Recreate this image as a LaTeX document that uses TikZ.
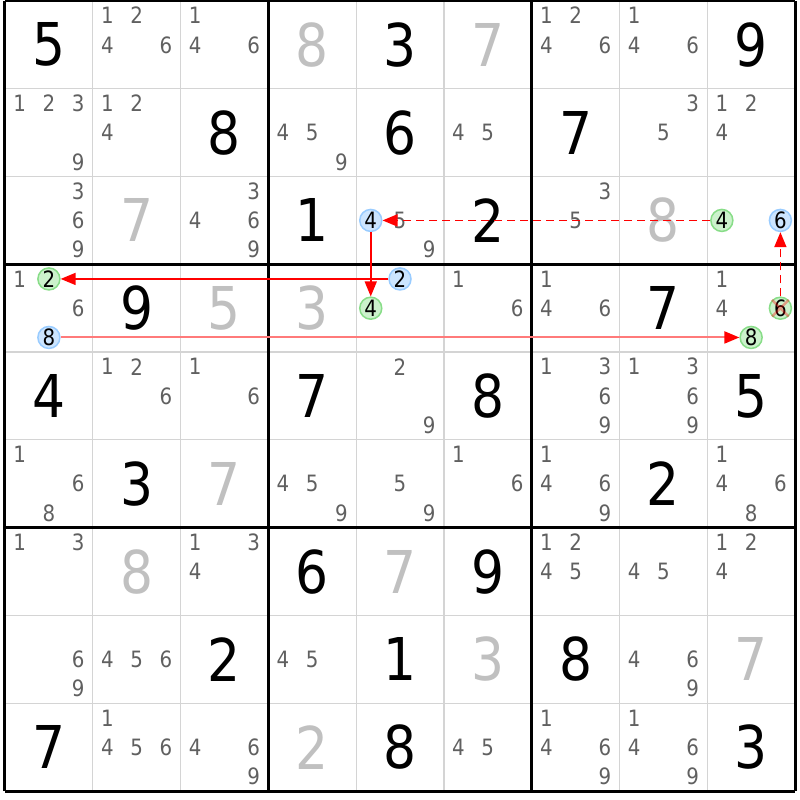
\documentclass[tikz,border=0pt]{standalone}
\usepackage{fontspec}
\setmainfont{DejaVu Sans}[FakeStretch=0.88]
\usepackage{tikz}
\usetikzlibrary{arrows.meta}
\definecolor{candgrey}{HTML}{606060}
\definecolor{foundgrey}{HTML}{C0C0C0}
\definecolor{gridgrey}{HTML}{D4D4D4}
\definecolor{bluefill}{HTML}{CCE5FF}
\definecolor{bluedraw}{HTML}{99CCFF}
\definecolor{greenfill}{HTML}{CCF2CC}
\definecolor{greendraw}{HTML}{88DD88}
\definecolor{linkpink}{HTML}{FF7A7A}
\newcommand{\clue}[3]{\node[clue] (r#1c#2) at ({#2-0.5},{9.5-#1}) {#3};}
\newcommand{\found}[3]{\node[found] (r#1c#2) at ({#2-0.5},{9.5-#1}) {#3};}
\newcommand{\cand}[4][cand]{\node[#1] (r#2c#3d#4) at ({#3-1+(mod(#4-1,3)+0.5)/3},{10-#2-(floor((#4-1)/3)+0.5)/3}) {#4};}
\tikzstyle{clue}=[font=\fontsize{59pt}{60pt}\selectfont, text=black, inner sep=0pt]
\tikzstyle{found}=[clue, text=foundgrey]
\tikzstyle{cand}=[font=\fontsize{22.5pt}{23pt}\selectfont, text=candgrey, inner sep=0pt]
\tikzstyle{bluecand}=[cand, circle, draw=bluedraw, fill=bluefill, line width=1.5pt, minimum size=22pt, text=black]
\tikzstyle{greencand}=[bluecand, draw=greendraw, fill=greenfill]
\tikzstyle{strong}=[red, line width=1.5pt, >={Triangle[length=15pt, width=12pt]}]
\tikzstyle{weak}=[strong, line width=1.7pt, dash pattern=on 8pt off 5pt]
\tikzstyle{faded}=[draw=linkpink, line width=2pt, >={Triangle[length=15pt, width=12pt, color=red]}]
\tikzstyle{crossed}=[red, opacity=0.35, line width=2.5pt]

\begin{document}
\begin{tikzpicture}[x=87.78pt, y=87.78pt]
    \useasboundingbox (-5pt,-9pt) rectangle (795pt,791pt);
    \fill[white] (-5pt,-9pt) rectangle (795pt,791pt);
    \draw[gridgrey, line width=1.2pt] (0,0) grid[step=1] (9,9);
    \draw[black, line width=3pt] (0,0) grid[step=3] (9,9);

    \clue{1}{1}{5}
    \cand{1}{2}{1} \cand{1}{2}{2} \cand{1}{2}{4} \cand{1}{2}{6}
    \cand{1}{3}{1} \cand{1}{3}{4} \cand{1}{3}{6}
    \found{1}{4}{8} \clue{1}{5}{3} \found{1}{6}{7}
    \cand{1}{7}{1} \cand{1}{7}{2} \cand{1}{7}{4} \cand{1}{7}{6}
    \cand{1}{8}{1} \cand{1}{8}{4} \cand{1}{8}{6}
    \clue{1}{9}{9}

    \cand{2}{1}{1} \cand{2}{1}{2} \cand{2}{1}{3} \cand{2}{1}{9}
    \cand{2}{2}{1} \cand{2}{2}{2} \cand{2}{2}{4}
    \clue{2}{3}{8}
    \cand{2}{4}{4} \cand{2}{4}{5} \cand{2}{4}{9}
    \clue{2}{5}{6}
    \cand{2}{6}{4} \cand{2}{6}{5}
    \clue{2}{7}{7}
    \cand{2}{8}{3} \cand{2}{8}{5}
    \cand{2}{9}{1} \cand{2}{9}{2} \cand{2}{9}{4}

    \cand{3}{1}{3} \cand{3}{1}{6} \cand{3}{1}{9}
    \found{3}{2}{7}
    \cand{3}{3}{3} \cand{3}{3}{4} \cand{3}{3}{6} \cand{3}{3}{9}
    \clue{3}{4}{1}
    \cand[bluecand]{3}{5}{4} \cand{3}{5}{5} \cand{3}{5}{9}
    \clue{3}{6}{2}
    \cand{3}{7}{3} \cand{3}{7}{5}
    \found{3}{8}{8}
    \cand[greencand]{3}{9}{4} \cand[bluecand]{3}{9}{6}

    \cand{4}{1}{1} \cand[greencand]{4}{1}{2} \cand{4}{1}{6} \cand[bluecand]{4}{1}{8}
    \clue{4}{2}{9} \found{4}{3}{5} \found{4}{4}{3}
    \cand[bluecand]{4}{5}{2} \cand[greencand]{4}{5}{4}
    \cand{4}{6}{1} \cand{4}{6}{6}
    \cand{4}{7}{1} \cand{4}{7}{4} \cand{4}{7}{6}
    \clue{4}{8}{7}
    \cand{4}{9}{1} \cand{4}{9}{4} \cand[greencand]{4}{9}{6} \cand[greencand]{4}{9}{8}

    \clue{5}{1}{4}
    \cand{5}{2}{1} \cand{5}{2}{2} \cand{5}{2}{6}
    \cand{5}{3}{1} \cand{5}{3}{6}
    \clue{5}{4}{7}
    \cand{5}{5}{2} \cand{5}{5}{9}
    \clue{5}{6}{8}
    \cand{5}{7}{1} \cand{5}{7}{3} \cand{5}{7}{6} \cand{5}{7}{9}
    \cand{5}{8}{1} \cand{5}{8}{3} \cand{5}{8}{6} \cand{5}{8}{9}
    \clue{5}{9}{5}

    \cand{6}{1}{1} \cand{6}{1}{6} \cand{6}{1}{8}
    \clue{6}{2}{3} \found{6}{3}{7}
    \cand{6}{4}{4} \cand{6}{4}{5} \cand{6}{4}{9}
    \cand{6}{5}{5} \cand{6}{5}{9}
    \cand{6}{6}{1} \cand{6}{6}{6}
    \cand{6}{7}{1} \cand{6}{7}{4} \cand{6}{7}{6} \cand{6}{7}{9}
    \clue{6}{8}{2}
    \cand{6}{9}{1} \cand{6}{9}{4} \cand{6}{9}{6} \cand{6}{9}{8}

    \cand{7}{1}{1} \cand{7}{1}{3}
    \found{7}{2}{8}
    \cand{7}{3}{1} \cand{7}{3}{3} \cand{7}{3}{4}
    \clue{7}{4}{6} \found{7}{5}{7} \clue{7}{6}{9}
    \cand{7}{7}{1} \cand{7}{7}{2} \cand{7}{7}{4} \cand{7}{7}{5}
    \cand{7}{8}{4} \cand{7}{8}{5}
    \cand{7}{9}{1} \cand{7}{9}{2} \cand{7}{9}{4}

    \cand{8}{1}{6} \cand{8}{1}{9}
    \cand{8}{2}{4} \cand{8}{2}{5} \cand{8}{2}{6}
    \clue{8}{3}{2}
    \cand{8}{4}{4} \cand{8}{4}{5}
    \clue{8}{5}{1} \found{8}{6}{3} \clue{8}{7}{8}
    \cand{8}{8}{4} \cand{8}{8}{6} \cand{8}{8}{9}
    \found{8}{9}{7}

    \clue{9}{1}{7}
    \cand{9}{2}{1} \cand{9}{2}{4} \cand{9}{2}{5} \cand{9}{2}{6}
    \cand{9}{3}{4} \cand{9}{3}{6} \cand{9}{3}{9}
    \found{9}{4}{2} \clue{9}{5}{8}
    \cand{9}{6}{4} \cand{9}{6}{5}
    \cand{9}{7}{1} \cand{9}{7}{4} \cand{9}{7}{6} \cand{9}{7}{9}
    \cand{9}{8}{1} \cand{9}{8}{4} \cand{9}{8}{6} \cand{9}{8}{9}
    \clue{9}{9}{3}

    \draw[crossed]
        (r4c9d6.north east) -- (r4c9d6.south west)
        (r4c9d6.north west) -- (r4c9d6.south east)
    ;
    \draw[weak, ->] (r3c9d4) -- (r3c5d4);
    \draw[strong, ->] (r3c5d4) -- (r4c5d4);
    \draw[strong, ->] (r4c5d2) -- (r4c1d2);
    \draw[strong, faded, ->] (r4c1d8) -- (r4c9d8);
    \draw[weak, ->] (r4c9d6) -- (r3c9d6);
\end{tikzpicture}
\end{document}
